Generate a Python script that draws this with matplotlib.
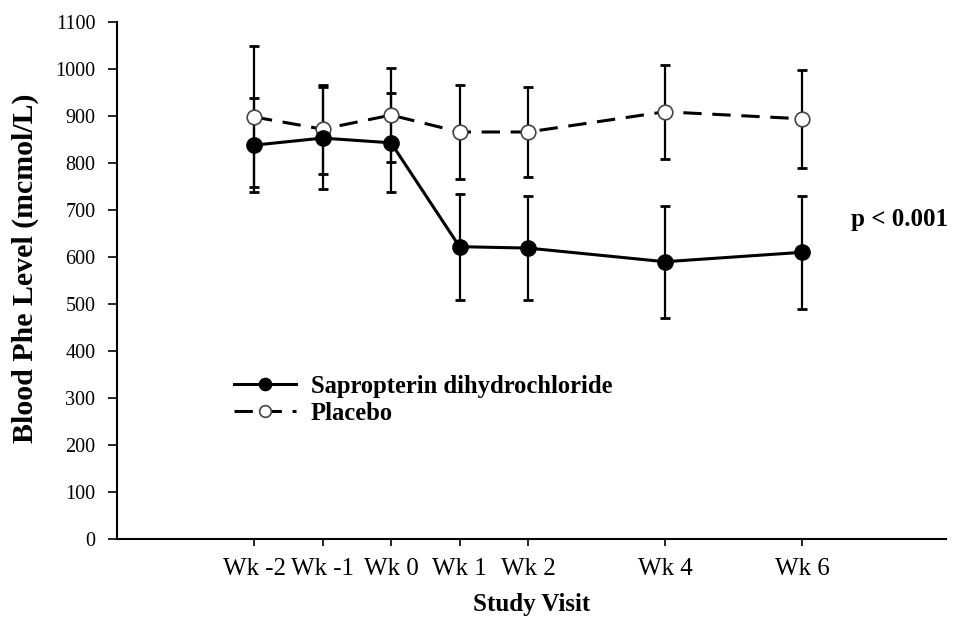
import matplotlib
matplotlib.use("Agg")
import matplotlib.pyplot as plt

weeks = [-2, -1, 0, 1, 2, 4, 6]
tick_labels = ["Wk -2", "Wk -1", "Wk 0", "Wk 1", "Wk 2", "Wk 4", "Wk 6"]

sapro_mean = [838, 853, 843, 622, 619, 590, 610]
sapro_err = [100, 108, 105, 113, 110, 119, 120]
placebo_mean = [898, 872, 902, 866, 866, 909, 894]
placebo_err = [150, 95, 100, 101, 95, 100, 104]

plt.rcParams['font.family'] = ['Liberation Serif', 'DejaVu Serif']

fig = plt.figure(figsize=(9.55, 6.18), dpi=100)
ax = fig.add_axes([0.1225, 0.1278, 0.868, 0.8366])

ax.errorbar(weeks, placebo_mean, yerr=placebo_err, fmt='none', ecolor='black',
            elinewidth=1.6, capsize=3.8, capthick=2, zorder=2)
ax.errorbar(weeks, sapro_mean, yerr=sapro_err, fmt='none', ecolor='black',
            elinewidth=1.6, capsize=3.8, capthick=2, zorder=2)

ax.plot(weeks, placebo_mean, color='black', linestyle=(0, (6, 3.5)), linewidth=2.2,
        marker='o', markersize=10.5, markerfacecolor='white', markeredgecolor='#444444',
        markeredgewidth=1.2, label='Placebo', zorder=3)
ax.plot(weeks, sapro_mean, color='black', linestyle='-', linewidth=2.2,
        marker='o', markersize=11, markerfacecolor='black', markeredgecolor='black',
        label='Sapropterin dihydrochloride', zorder=4)

ax.set_xlim(-4, 8.1)
ax.set_ylim(0, 1100)
ax.set_yticks(range(0, 1101, 100))
ax.set_xticks(weeks)
ax.set_xticklabels(tick_labels)
ax.tick_params(axis='y', direction='out', length=6.5, width=1.2, labelsize=14.5, pad=9)
ax.tick_params(axis='x', direction='out', length=5, width=1.2, labelsize=18, pad=9)
for s in ['top', 'right']:
    ax.spines[s].set_visible(False)
for s in ['left', 'bottom']:
    ax.spines[s].set_linewidth(1.5)

ax.set_ylabel('Blood Phe Level (mcmol/L)', fontsize=21.5, fontweight='bold')
ax.yaxis.label.set(va='center', ha='center', rotation_mode='default')
ax.yaxis.set_label_coords((25 - 117) / 829, (539 - 268) / 517)

ax.set_xlabel('Study Visit', fontsize=18, fontweight='bold')
ax.xaxis.label.set(va='bottom')
ax.xaxis.set_label_coords(0.5, (539 - 616) / 517)

handles, labels = ax.get_legend_handles_labels()
leg = ax.legend(handles[::-1], labels[::-1], loc='upper left', bbox_to_anchor=(0.115, 0.36),
                frameon=False, prop={'weight': 'bold', 'size': 17.7}, handlelength=2.5,
                labelspacing=0.15, handletextpad=0.6, markerscale=0.8)

ax.text(8.13, 679, 'p < 0.001', fontsize=18, fontweight='bold', ha='right', va='center')

fig.savefig('out.png', dpi=100)
